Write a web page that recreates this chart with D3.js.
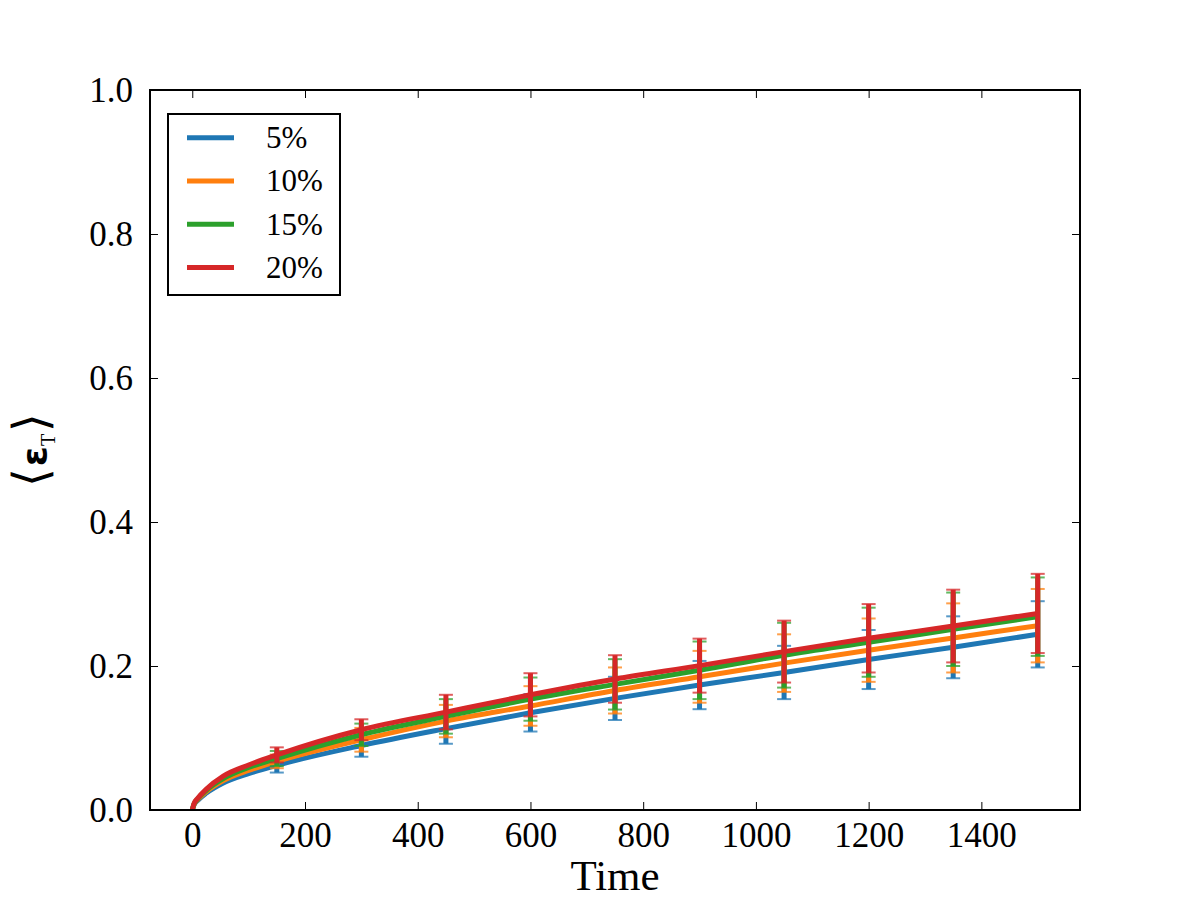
<!DOCTYPE html>
<html>
<head>
<meta charset="utf-8">
<script src="https://cdn.jsdelivr.net/npm/d3@7"></script>
<style>
  body { margin: 0; background: #fff; }
  svg { display: block; }
</style>
</head>
<body>
<div id="chart"></div>
<script>
// --------------------------------------
//  Data
// --------------------------------------

const seriesNames = ["5%", "10%", "15%", "20%"];
const seriesColors = ["#1f77b4", "#ff7f0e", "#2ca02c", "#d62728"];

// times where the mean curves were read
const times = [0, 3, 10, 25, 55, 100, 150, 300, 450, 600, 750, 900, 1050, 1200, 1350, 1500];

const mean5  = [0, 0.0070, 0.0135, 0.0235, 0.0375, 0.0505, 0.062, 0.0895, 0.113, 0.135, 0.155, 0.1735, 0.191, 0.209, 0.226, 0.244];
const mean10 = [0, 0.0076, 0.0147, 0.0256, 0.0409, 0.0550, 0.0675, 0.0975, 0.1235, 0.1445, 0.166, 0.185, 0.204, 0.222, 0.239, 0.256];
const mean15 = [0, 0.0081, 0.0157, 0.0273, 0.0435, 0.0590, 0.0715, 0.1045, 0.130, 0.154, 0.1745, 0.194, 0.215, 0.233, 0.251, 0.2685];
const mean20 = [0, 0.0086, 0.0166, 0.0290, 0.0470, 0.0625, 0.0765, 0.1115, 0.136, 0.160, 0.182, 0.2005, 0.220, 0.2385, 0.2555, 0.273];

// error bars every 150 time units
const errTimes = [0, 150, 300, 450, 600, 750, 900, 1050, 1200, 1350, 1500];

const err5  = [0, 0.0100, 0.0155, 0.021, 0.026, 0.030, 0.0335, 0.037, 0.041, 0.043, 0.046];
const err10 = [0, 0.0095, 0.0165, 0.0225, 0.0275, 0.032, 0.036, 0.040, 0.044, 0.048, 0.051];
const err15 = [0, 0.0105, 0.0155, 0.024, 0.030, 0.035, 0.040, 0.045, 0.048, 0.051, 0.0545];
const err20 = [0, 0.0105, 0.0145, 0.024, 0.030, 0.033, 0.0375, 0.043, 0.0475, 0.0505, 0.055];

const xTicks = [0, 200, 400, 600, 800, 1000, 1200, 1400];
const yTicks = [0, 0.2, 0.4, 0.6, 0.8, 1.0];

const means = [mean5, mean10, mean15, mean20];
const errs = [err5, err10, err15, err20];

// --------------------------------------
//  Margin and canvas
// --------------------------------------

const margin = {top: 90, right: 120, bottom: 90, left: 150};
const width = 1200;
const height = 900;
const innerwidth = width - margin.left - margin.right;
const innerheight = height - margin.top - margin.bottom;

const serif = "'Liberation Serif', 'DejaVu Serif', serif";

const svg = d3.select("#chart")
  .append("svg")
    .attr("width", width)
    .attr("height", height)
    .attr("viewBox", `0, 0, ${width}, ${height}`);

const innerChart = svg
  .append("g")
    .attr("transform", `translate(${margin.left}, ${margin.top})`);

// --------------------------------------
//  Scales
// --------------------------------------

let x = d3.scaleLinear()
    .domain([-75, 1575])
    .range([0, innerwidth]);

let y = d3.scaleLinear()
    .domain([0, 1])
    .range([innerheight, 0]);

// --------------------------------------
//  Axes
// --------------------------------------

const styleAxis = g => {
  g.select(".domain").remove();
  g.selectAll(".tick line").attr("stroke", "#000").attr("stroke-width", 1);
  g.selectAll("text")
    .attr("font-family", serif)
    .attr("font-size", 35)
    .attr("fill", "#000");
};

innerChart.append("g")
    .attr("transform", `translate(0, ${innerheight})`)
    .call(d3.axisBottom(x)
      .tickValues(xTicks)
      .tickSizeInner(-8)
      .tickSizeOuter(0)
      .tickPadding(12)
      .tickFormat(d3.format("d")))
    .call(styleAxis);

innerChart.append("g")
    .call(d3.axisTop(x)
      .tickValues(xTicks)
      .tickSizeInner(-8)
      .tickSizeOuter(0)
      .tickFormat(""))
    .call(styleAxis);

innerChart.append("g")
    .call(d3.axisLeft(y)
      .tickValues(yTicks)
      .tickSizeInner(-8)
      .tickSizeOuter(0)
      .tickPadding(17)
      .tickFormat(d3.format(".1f")))
    .call(styleAxis);

innerChart.append("g")
    .attr("transform", `translate(${innerwidth}, 0)`)
    .call(d3.axisRight(y)
      .tickValues(yTicks)
      .tickSizeInner(-8)
      .tickSizeOuter(0)
      .tickFormat(""))
    .call(styleAxis);

// --------------------------------------
//  Data drawing
// --------------------------------------

const line = d3.line()
    .x(d => x(d.t))
    .y(d => y(d.v))
    .curve(d3.curveMonotoneX);

const plot = innerChart.append("g");

means.forEach((m, i) => {
  const pts = times.map((t, j) => ({t: t, v: m[j]}));
  const bars = errTimes.map((t, j) => ({t: t, v: m[times.indexOf(t)], e: errs[i][j]}));
  const g = plot.append("g");

  g.append("path")
    .datum(pts)
    .attr("fill", "none")
    .attr("stroke", seriesColors[i])
    .attr("stroke-width", 5)
    .attr("d", line);

  g.selectAll(".bar")
    .data(bars)
    .join("line")
      .attr("x1", d => x(d.t))
      .attr("x2", d => x(d.t))
      .attr("y1", d => y(d.v - d.e))
      .attr("y2", d => y(d.v + d.e))
      .attr("stroke", seriesColors[i])
      .attr("stroke-width", 5);

  bars.forEach(d => {
    [d.v - d.e, d.v + d.e].forEach(v => {
      g.append("line")
        .attr("x1", x(d.t) - 7)
        .attr("x2", x(d.t) + 7)
        .attr("y1", y(v))
        .attr("y2", y(v))
        .attr("stroke", seriesColors[i])
        .attr("stroke-opacity", 0.75)
        .attr("stroke-width", 2);
    });
  });
});

// frame
innerChart.append("rect")
    .attr("width", innerwidth)
    .attr("height", innerheight)
    .attr("fill", "none")
    .attr("stroke", "#000")
    .attr("stroke-width", 2);

// --------------------------------------
//  Labels
// --------------------------------------

svg.append("text")
    .attr("x", margin.left + innerwidth / 2)
    .attr("y", 890)
    .attr("text-anchor", "middle")
    .attr("font-family", serif)
    .attr("font-size", 43)
    .text("Time");

const ylab = svg.append("text")
    .attr("transform", `translate(47, ${margin.top + innerheight / 2}) rotate(-90)`)
    .attr("text-anchor", "middle")
    .attr("font-size", 40);

ylab.append("tspan").attr("font-family", "'DejaVu Sans'").attr("font-weight", 200).attr("font-size", 48).text("⟨");
ylab.append("tspan").attr("font-family", "'DejaVu Sans'").attr("font-weight", "bold").attr("font-size", 36).attr("dx", 2).text("ε");
ylab.append("tspan").attr("font-family", serif).attr("font-size", 20).attr("dy", 8).text("T");
ylab.append("tspan").attr("font-family", "'DejaVu Sans'").attr("font-weight", 200).attr("font-size", 48).attr("dy", -8).attr("dx", 2).text("⟩");

// --------------------------------------
//  Legend
// --------------------------------------

const legend = svg.append("g")
    .attr("transform", "translate(168, 114)");

legend.append("rect")
    .attr("width", 172)
    .attr("height", 181)
    .attr("fill", "#fff")
    .attr("stroke", "#000")
    .attr("stroke-width", 2);

const items = legend.selectAll(".item")
  .data(seriesNames)
  .join("g")
    .attr("transform", (d, i) => `translate(0, ${23.7 + i * 43.3})`);

items.append("line")
    .attr("x1", 19)
    .attr("x2", 66)
    .attr("stroke", (d, i) => seriesColors[i])
    .attr("stroke-width", 5);

items.append("text")
    .attr("x", 98)
    .attr("dy", "0.33em")
    .attr("font-family", serif)
    .attr("font-size", 31)
    .text(d => d);
</script>
</body>
</html>
